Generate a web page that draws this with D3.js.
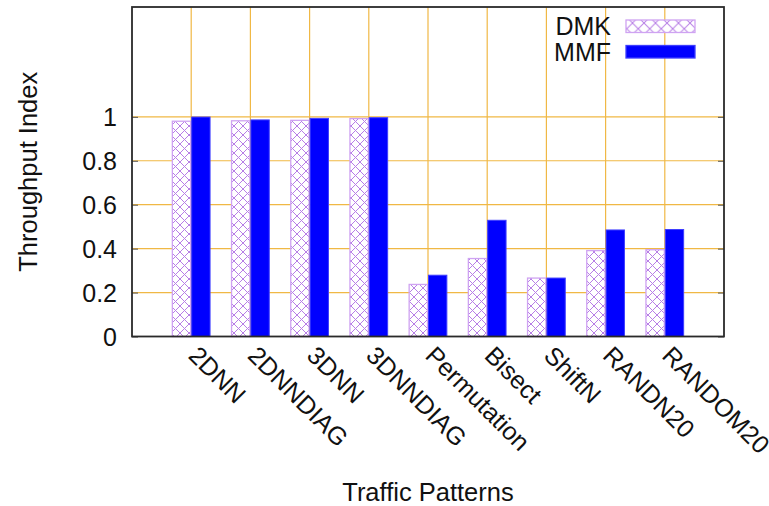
<!DOCTYPE html>
<html>
<head>
<meta charset="utf-8">
<script src="https://cdn.jsdelivr.net/npm/d3@7"></script>
<style>
  html, body { margin: 0; padding: 0; background: #fff; }
  svg { display: block; font-family: "Liberation Sans", Arial, Helvetica, sans-serif; }
</style>
</head>
<body>
<svg id="chart" width="769" height="506"></svg>
<script>
// Traffic patterns and throughput index for the two schemes
const patterns = ["2DNN", "2DNNDIAG", "3DNN", "3DNNDIAG", "Permutation", "Bisect", "ShiftN", "RANDN20", "RANDOM20"];
const dmk = [0.980, 0.982, 0.984, 0.992, 0.237, 0.355, 0.266, 0.391, 0.395];
const mmf = [0.999, 0.986, 0.993, 0.996, 0.279, 0.529, 0.266, 0.485, 0.487];
const seriesNames = ["DMK", "MMF"];
const yTicks = [0, 0.2, 0.4, 0.6, 0.8, 1];

const svg = d3.select("#chart");
const plot = { left: 132, right: 724, top: 7, bottom: 336.5 };

const defs = svg.append("defs");
function crossHatch(id, size) {
  const p = defs.append("pattern")
    .attr("id", id)
    .attr("patternUnits", "userSpaceOnUse")
    .attr("width", size).attr("height", size);
  p.append("rect").attr("width", size).attr("height", size).attr("fill", "#fff");
  p.append("path")
    .attr("d", `M0,0L${size},${size}M${size},0L0,${size}M${-size/2},${size/2}L${size/2},${-size/2}M${size/2},${size*1.5}L${size*1.5},${size/2}`)
    .attr("stroke", "#b77ee6").attr("stroke-width", 1).attr("fill", "none");
}
crossHatch("hatch", 9);
crossHatch("hatchLegend", 11.5);

const step = (plot.right - plot.left) / (patterns.length + 1);
const x = d3.scalePoint()
  .domain(patterns)
  .range([plot.left + step, plot.right - step]);
const y = d3.scaleLinear().domain([0, 1.5]).range([plot.bottom, plot.top]);
const barW = step * 0.31;

// grid
const grid = svg.append("g").attr("stroke", "#f0b845").attr("stroke-width", 1.2);
grid.selectAll("line.h").data(yTicks.filter(d => d > 0)).join("line")
  .attr("class", "h")
  .attr("x1", plot.left).attr("x2", plot.right)
  .attr("y1", d => y(d)).attr("y2", d => y(d));
grid.selectAll("line.v").data(patterns).join("line")
  .attr("class", "v")
  .attr("x1", d => x(d)).attr("x2", d => x(d))
  .attr("y1", plot.top).attr("y2", plot.bottom);

// bars
const bars = svg.append("g");
bars.selectAll("rect.dmk").data(patterns).join("rect")
  .attr("class", "dmk")
  .attr("x", d => x(d) - barW - 0.5)
  .attr("width", barW)
  .attr("y", (d, i) => y(dmk[i]))
  .attr("height", (d, i) => plot.bottom - y(dmk[i]))
  .attr("fill", "url(#hatch)")
  .attr("stroke", "#cfa3f2").attr("stroke-width", 1.3);
bars.selectAll("rect.mmf").data(patterns).join("rect")
  .attr("class", "mmf")
  .attr("x", d => x(d) + 0.5)
  .attr("width", barW)
  .attr("y", (d, i) => y(mmf[i]))
  .attr("height", (d, i) => plot.bottom - y(mmf[i]))
  .attr("fill", "#0000ff")
  .attr("stroke", "#3d3dff").attr("stroke-width", 1);

// axes with inward ticks on both sides
const yAxisL = svg.append("g").attr("transform", `translate(${plot.left},0)`)
  .call(d3.axisRight(y).tickValues(yTicks).tickSize(6).tickFormat(""));
const yAxisR = svg.append("g").attr("transform", `translate(${plot.right},0)`)
  .call(d3.axisLeft(y).tickValues(yTicks).tickSize(6).tickFormat(""));
[yAxisL, yAxisR].forEach(g => {
  g.select(".domain").remove();
  g.selectAll(".tick line").attr("stroke", "#555").attr("stroke-width", 1);
});

// tick labels
svg.append("g").selectAll("text").data(yTicks).join("text")
  .attr("x", plot.left - 15)
  .attr("y", d => y(d))
  .attr("dy", "0.36em")
  .attr("text-anchor", "end")
  .attr("font-size", 25)
  .attr("fill", "#111")
  .text(d => d3.format("~g")(d));

svg.append("g").selectAll("text").data(patterns).join("text")
  .attr("transform", d => `translate(${x(d) - 4},357) rotate(45)`)
  .attr("text-anchor", "start")
  .attr("font-size", 25)
  .attr("fill", "#111")
  .text(d => d);

// frame
svg.append("rect")
  .attr("x", plot.left).attr("y", plot.top)
  .attr("width", plot.right - plot.left).attr("height", plot.bottom - plot.top)
  .attr("fill", "none").attr("stroke", "#2a2a2a").attr("stroke-width", 1.8);

// axis titles
svg.append("text")
  .attr("transform", `translate(37,${(plot.top + plot.bottom) / 2}) rotate(-90)`)
  .attr("text-anchor", "middle")
  .attr("font-size", 25.5)
  .attr("fill", "#111")
  .text("Throughput Index");
svg.append("text")
  .attr("x", (plot.left + plot.right) / 2)
  .attr("y", 501)
  .attr("text-anchor", "middle")
  .attr("font-size", 25.5)
  .attr("fill", "#111")
  .text("Traffic Patterns");

// legend
const legend = svg.append("g");
const legendRows = [
  { name: seriesNames[0], fill: "url(#hatchLegend)", stroke: "#cfa3f2", base: 35 },
  { name: seriesNames[1], fill: "#0000ff", stroke: "#3d3dff", base: 60.5 }
];
legendRows.forEach(r => {
  legend.append("text")
    .attr("x", 611).attr("y", r.base)
    .attr("text-anchor", "end")
    .attr("font-size", 25)
    .attr("fill", "#111")
    .text(r.name);
  legend.append("rect")
    .attr("x", 626).attr("y", r.base - 15)
    .attr("width", 69).attr("height", 12.5)
    .attr("fill", r.fill)
    .attr("stroke", r.stroke).attr("stroke-width", 1.3);
});
</script>
</body>
</html>
